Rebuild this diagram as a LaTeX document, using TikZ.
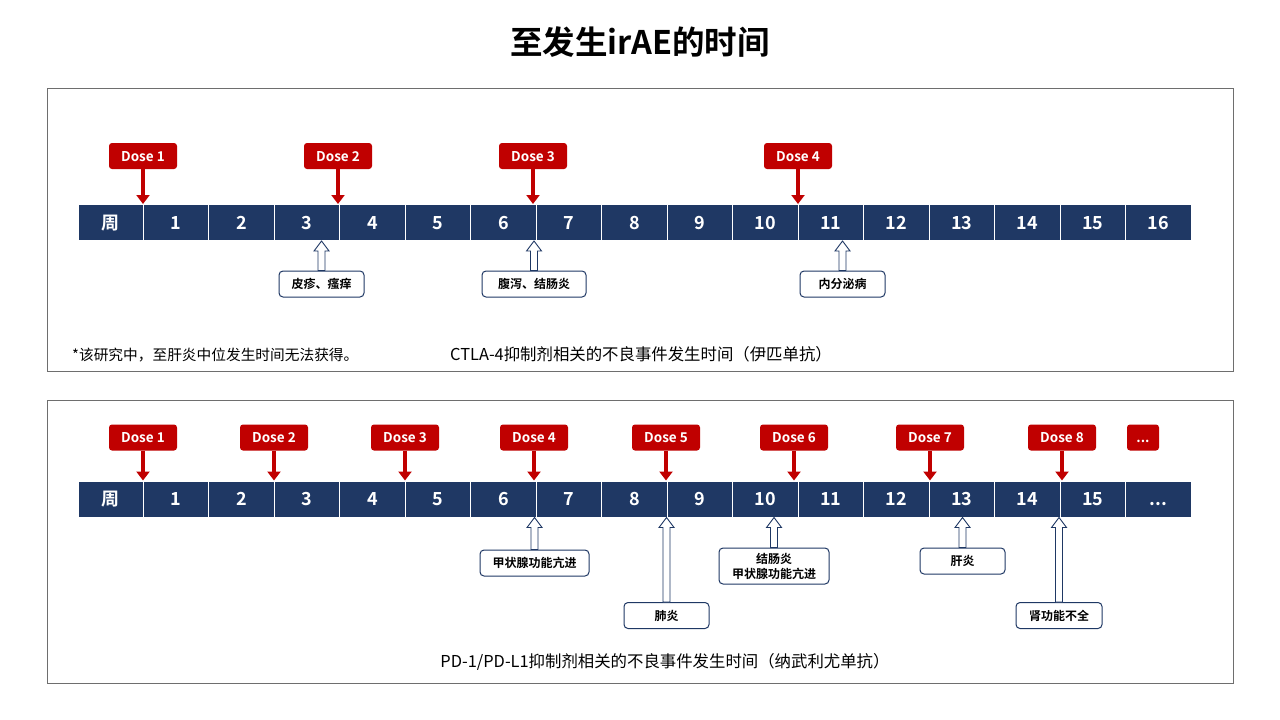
\documentclass[tikz,border=0pt]{standalone}
\usepackage{fontspec}
\setmainfont{Noto Sans CJK SC}[BoldFont={Noto Sans CJK SC Bold}]
\usetikzlibrary{arrows.meta,calc}
\definecolor{navy}{RGB}{31,56,100}
\definecolor{dred}{RGB}{192,0,0}
\definecolor{panelgray}{RGB}{110,110,110}
\tikzset{
  panel/.style={draw=panelgray, line width=0.8pt},
  cell/.style={fill=navy, draw=white, line width=1pt, text=white, minimum width=65.47pt, minimum height=36pt, inner sep=0pt, text height=13pt, text depth=0pt, font=\bfseries\fontsize{18}{18}\selectfont},
  dosebox/.style={fill=dred, rounded corners=3pt, minimum width=68pt, minimum height=26pt, inner sep=0pt, text=white, text height=10pt, text depth=0pt, font=\bfseries\fontsize{13.5}{13.5}\selectfont},
  dosearrow/.style={draw=dred, line width=4pt, -{Triangle[width=13pt,length=9pt]}},
  evbox/.style={draw=navy, fill=white, line width=1pt, rounded corners=4pt, minimum height=26pt, inner sep=2pt, align=center, font=\bfseries\fontsize{12}{15}\selectfont},
  hollow/.style={draw=navy, fill=white, line width=0.9pt, line join=miter},
  caption/.style={font=\fontsize{16.4}{16.4}\selectfont, inner sep=0pt},
  note/.style={font=\fontsize{14.7}{14.7}\selectfont, inner sep=0pt}
}
\begin{document}
\begin{tikzpicture}[x=1pt,y=-1pt]
\useasboundingbox (0,0) rectangle (1280,720);
\fill[white] (0,0) rectangle (1280,720);
% title
\node[font=\bfseries\fontsize{32.5}{32.5}\selectfont] (title) at (640,42) {至发生irAE的时间};
% panels
\draw[panel] (47,88) rectangle (1233,371);
\draw[panel] (47,400) rectangle (1233,683);
% bar 1
\foreach \t [count=\i from 0] in {周,1,2,3,4,5,6,7,8,9,10,11,12,13,14,15,16}
  \node[cell] (a\i) at ({78+65.47*(\i+0.5)},222.5) {\t};
% bar 2
\foreach \t [count=\i from 0] in {周,1,2,3,4,5,6,7,8,9,10,11,12,13,14,15}
  \node[cell] (b\i) at ({78+65.47*(\i+0.5)},499) {\t};
\node[cell] (b16) at ({78+65.47*16.5},499) {...};
% doses panel 1
\node[dosebox] (p1) at (143,156) {Dose 1};
\node[dosebox] (p2) at (338,156) {Dose 2};
\node[dosebox] (p3) at (533,156) {Dose 3};
\node[dosebox] (p4) at (798,156) {Dose 4};
\foreach \d in {p1,p2,p3,p4}
  \draw[dosearrow] (\d.south) -- (\d.south |- a0.north);
% doses panel 2
\node[dosebox] (q1) at (143,437.5) {Dose 1};
\node[dosebox] (q2) at (274,437.5) {Dose 2};
\node[dosebox] (q3) at (405,437.5) {Dose 3};
\node[dosebox] (q4) at (534,437.5) {Dose 4};
\node[dosebox] (q5) at (666,437.5) {Dose 5};
\node[dosebox] (q6) at (794,437.5) {Dose 6};
\node[dosebox] (q7) at (930,437.5) {Dose 7};
\node[dosebox] (q8) at (1062,437.5) {Dose 8};
\node[dosebox, minimum width=32pt] (q9) at (1143,437.5) {...};
\foreach \d in {q1,q2,q3,q4,q5,q6,q7,q8}
  \draw[dosearrow] (\d.south) -- (\d.south |- b0.north);
% events panel 1
\node[evbox, minimum width=85pt] (e1) at (321.5,284) {皮疹、瘙痒};
\node[evbox, minimum width=104pt] (e2) at (534,284) {腹泻、结肠炎};
\node[evbox, minimum width=85pt] (e3) at (842.5,284) {内分泌病};
\foreach \e in {e1,e2,e3}
  \draw[hollow] ($(\e.north)+(-3.5,0)$) -- ($(\e.north |- a0.south)+(-3.5,10)$) -- ++(-4,0)
    -- (\e.north |- a0.south) -- ++(7.5,10) -- ++(-4,0) -- ($(\e.north)+(3.5,0)$) -- cycle;
% events panel 2
\node[evbox, minimum width=109pt] (f1) at (534.5,563) {甲状腺功能亢进};
\node[evbox, minimum width=85pt] (f2) at (666.5,615.5) {肺炎};
\node[evbox, minimum width=110pt, minimum height=36pt] (f3) at (774,566) {结肠炎\\甲状腺功能亢进};
\node[evbox, minimum width=85pt] (f4) at (962.5,561) {肝炎};
\node[evbox, minimum width=86pt] (f5) at (1059,615.5) {肾功能不全};
\foreach \e in {f1,f2,f3,f4,f5}
  \draw[hollow] ($(\e.north)+(-3.5,0)$) -- ($(\e.north |- b0.south)+(-3.5,10)$) -- ++(-4,0)
    -- (\e.north |- b0.south) -- ++(7.5,10) -- ++(-4,0) -- ($(\e.north)+(3.5,0)$) -- cycle;
% captions
\node[note, anchor=west] (fn) at (72,355) {*该研究中，至肝炎中位发生时间无法获得。};
\node[caption] (cap1) at (641,354) {CTLA-4抑制剂相关的不良事件发生时间（伊匹单抗）};
\node[caption] (cap2) at (665,662) {PD-1/PD-L1抑制剂相关的不良事件发生时间（纳武利尤单抗）};
\end{tikzpicture}
\end{document}
